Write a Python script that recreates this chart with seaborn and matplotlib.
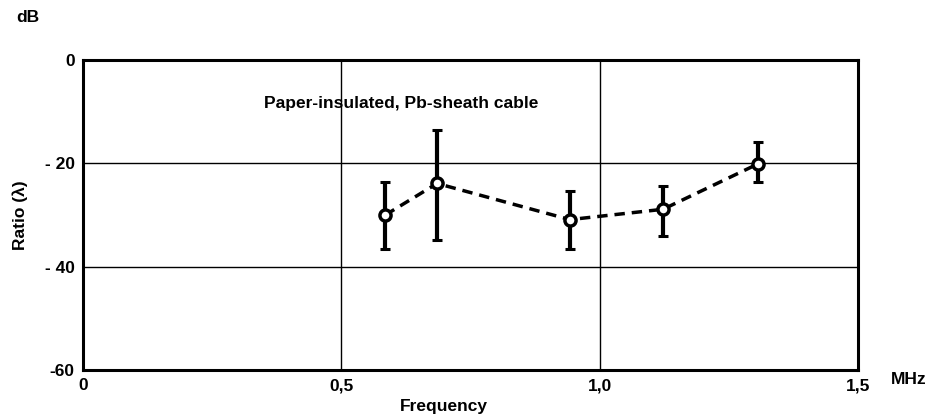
import pandas as pd
import seaborn as sns
import matplotlib.pyplot as plt

# Data
freq = [0.585, 0.685, 0.942, 1.122, 1.306]
ratio = [-30.0, -23.9, -30.9, -28.9, -20.1]
upper = [-23.6, -13.5, -25.3, -24.4, -15.9]
lower = [-36.6, -34.9, -36.6, -34.1, -23.7]

x_ticks = [0, 0.5, 1.0, 1.5]
x_labels = ['0', '0,5', '1,0', '1,5']
y_ticks = [-60, -40, -20, 0]
y_labels = ['-60', '- 40', '- 20', '0']

df = pd.DataFrame({'freq': freq, 'ratio': ratio, 'upper': upper, 'lower': lower})

sns.set_style('white', {'text.color': 'black', 'axes.labelcolor': 'black',
                        'xtick.color': 'black', 'ytick.color': 'black'})
plt.rcParams['font.family'] = ['Liberation Sans', 'DejaVu Sans']
plt.rcParams['font.weight'] = 'bold'
fs = 12.5

fig = plt.figure(figsize=(9.32, 4.17), dpi=100)
ax = fig.add_axes([0.089, 0.113, 0.832, 0.743])

# Error bars
ax.errorbar(df['freq'], df['ratio'],
            yerr=[df['ratio'] - df['lower'], df['upper'] - df['ratio']],
            fmt='none', ecolor='black', elinewidth=3, capsize=3.6, capthick=2.2, zorder=3)

# Dashed line with open markers
sns.lineplot(data=df, x='freq', y='ratio', ax=ax, color='black', linewidth=2.5,
             linestyle=(0, (3, 2)), marker='o', markersize=8, markerfacecolor='white',
             markeredgecolor='black', markeredgewidth=2.5, zorder=4)

ax.set_xlim(0, 1.5)
ax.set_ylim(-60, 0)
ax.set_xticks(x_ticks)
ax.set_xticklabels(x_labels)
ax.set_yticks(y_ticks)
ax.set_yticklabels(y_labels)
ax.tick_params(length=0, labelsize=fs, pad=6, colors='black')

# Grid lines
for gx in [0.5, 1.0]:
    ax.axvline(gx, color='black', linewidth=1, zorder=1)
for gy in [-20, -40]:
    ax.axhline(gy, color='black', linewidth=1, zorder=1)

for s in ax.spines.values():
    s.set_linewidth(2.2)
    s.set_color('black')

ax.set_xlabel('')
ax.set_ylabel('Ratio (λ)', fontsize=fs, fontweight='bold', labelpad=12, color='black')

ax.text(0.615, -8.5, 'Paper-insulated, Pb-sheath cable', ha='center', va='center',
        fontsize=fs, fontweight='bold', color='black')
fig.text(444 / 932, 1 - 406 / 417, 'Frequency', ha='center', va='center',
         fontsize=fs, fontweight='bold', color='black')
fig.text(28 / 932, 1 - 18 / 417, 'dB', ha='center', va='center',
         fontsize=fs, fontweight='bold', color='black')
fig.text(909 / 932, 1 - 380 / 417, 'MHz', ha='center', va='center',
         fontsize=fs, fontweight='bold', color='black')

fig.savefig('out.png', dpi=100, facecolor='white')
